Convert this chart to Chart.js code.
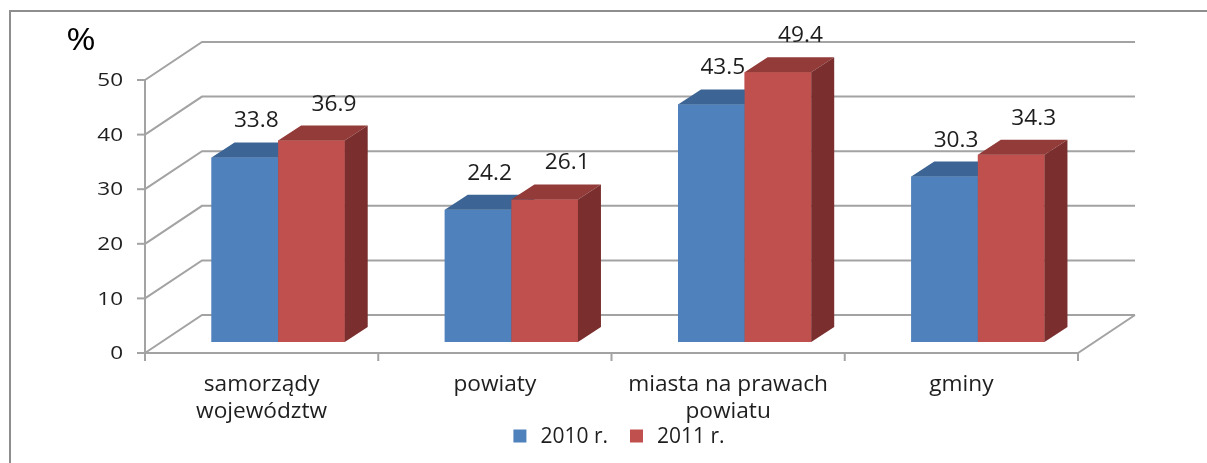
<!DOCTYPE html>
<html>
<head>
<meta charset="utf-8">
<script src="https://cdn.jsdelivr.net/npm/chart.js@4/dist/chart.umd.min.js"></script>
<style>
  body { margin: 0; background: #fff; }
  #wrap { width: 1207px; height: 463px; position: relative; }
</style>
</head>
<body>
<div id="wrap"><canvas id="barChart"></canvas></div>
<script>
const categories = [['samorządy', 'województw'], ['powiaty'], ['miasta na prawach', 'powiatu'], ['gminy']];
const seriesNames = ['2010 r.', '2011 r.'];
const values2010 = [33.8, 24.2, 43.5, 30.3];
const values2011 = [36.9, 26.1, 49.4, 34.3];
const yTicks = [0, 10, 20, 30, 40, 50];
const unitLabel = '%';

const colors = {
    front: ['#4f81bd', '#c0504d'],
    top: ['#3c6494', '#923b39'],
    side: ['#34557e', '#7a2f2e']
};
const GRID = '#a3a3a3';
const TEXT = '#1e1e1e';

// przesunięcia płaszczyzn względem płaszczyzny słupków
const FRONT = { dx: -16.5, dy: 11 };
const BACK = { dx: 40.5, dy: -27 };
const BAR_DEPTH = { dx: 23, dy: -15 };
const labelShift = [0, 11];

function line(ctx, pts) {
    ctx.beginPath();
    ctx.moveTo(pts[0][0], pts[0][1]);
    for (let i = 1; i < pts.length; i++) ctx.lineTo(pts[i][0], pts[i][1]);
    ctx.stroke();
}
function poly(ctx, pts, fill) {
    ctx.beginPath();
    ctx.moveTo(pts[0][0], pts[0][1]);
    for (let i = 1; i < pts.length; i++) ctx.lineTo(pts[i][0], pts[i][1]);
    ctx.closePath();
    ctx.fillStyle = fill;
    ctx.fill();
}
// tekst lekko rozciągnięty w poziomie, jak w oryginale
function text(ctx, s, x, y, sx) {
    ctx.save();
    ctx.translate(x, y);
    ctx.scale(sx, 1);
    ctx.fillText(s, 0, 0);
    ctx.restore();
}

const bars3d = {
    id: 'bars3d',
    beforeDatasetsDraw(chart) {
        const ctx = chart.ctx;
        const xS = chart.scales.x, yS = chart.scales.y;
        const x0 = xS.left, x1 = xS.right;
        const zero = yS.getPixelForValue(0);
        ctx.save();
        ctx.strokeStyle = GRID;
        ctx.lineWidth = 2;
        // ściany: linie siatki
        yTicks.forEach(v => {
            const yb = yS.getPixelForValue(v);
            line(ctx, [[x0 + FRONT.dx, yb + FRONT.dy], [x0 + BACK.dx, yb + BACK.dy], [x1 + BACK.dx, yb + BACK.dy]]);
        });
        // podłoga
        line(ctx, [[x0 + FRONT.dx, zero + FRONT.dy], [x1 + FRONT.dx, zero + FRONT.dy], [x1 + BACK.dx, zero + BACK.dy]]);
        // oś wartości
        const ax = x0 + FRONT.dx;
        line(ctx, [[ax, yS.getPixelForValue(yTicks[yTicks.length - 1]) + FRONT.dy], [ax, zero + FRONT.dy + 8]]);
        ctx.font = '18px "Open Sans"';
        ctx.fillStyle = TEXT;
        ctx.textAlign = 'right';
        ctx.textBaseline = 'middle';
        yTicks.forEach(v => {
            const y = yS.getPixelForValue(v) + FRONT.dy;
            line(ctx, [[ax - 8, y], [ax, y]]);
            text(ctx, String(v), ax - 22, y + 1, 1.25);
        });
        // oś kategorii
        const w = (x1 - x0) / categories.length;
        for (let i = 0; i <= categories.length; i++) {
            const x = x0 + FRONT.dx + i * w;
            line(ctx, [[x, zero + FRONT.dy], [x, zero + FRONT.dy + 8]]);
        }
        ctx.font = '21px "Open Sans"';
        ctx.textAlign = 'center';
        categories.forEach((lab, i) => {
            const cx = xS.getPixelForValue(i) + FRONT.dx;
            lab.forEach((t, k) => text(ctx, t, cx, zero + FRONT.dy + 32 + k * 27, 1.08));
        });
        ctx.restore();
    },
    afterDatasetsDraw(chart) {
        const ctx = chart.ctx;
        ctx.save();
        chart.data.datasets.forEach((ds, d) => {
            const meta = chart.getDatasetMeta(d);
            meta.data.forEach(el => {
                const l = el.x - el.width / 2, r = el.x + el.width / 2;
                const t = el.y, b = el.base;
                const DX = BAR_DEPTH.dx, DY = BAR_DEPTH.dy;
                poly(ctx, [[l, t], [r, t], [r, b], [l, b]], colors.front[d]);
                poly(ctx, [[l, t], [r, t], [r + DX, t + DY], [l + DX, t + DY]], colors.top[d]);
                poly(ctx, [[r, t], [r + DX, t + DY], [r + DX, b + DY], [r, b]], colors.side[d]);
            });
        });
        ctx.font = '21px "Open Sans"';
        ctx.fillStyle = TEXT;
        ctx.textAlign = 'center';
        ctx.textBaseline = 'middle';
        chart.data.datasets.forEach((ds, d) => {
            chart.getDatasetMeta(d).data.forEach((el, i) => {
                text(ctx, ds.data[i].toFixed(1), el.x + BAR_DEPTH.dx / 2 + labelShift[d], el.y + BAR_DEPTH.dy - 21, 1.08);
            });
        });
        ctx.restore();
    },
    afterDraw(chart) {
        const ctx = chart.ctx;
        ctx.save();
        // ramka
        ctx.strokeStyle = '#8e8e8e';
        ctx.lineWidth = 2;
        ctx.strokeRect(10, 11, 1220, 500);
        // jednostka
        ctx.fillStyle = '#000';
        ctx.font = '31px "Open Sans"';
        ctx.textAlign = 'center';
        ctx.textBaseline = 'middle';
        text(ctx, unitLabel, 81, 41, 1.15);
        // legenda
        ctx.font = '21px "Open Sans"';
        ctx.textAlign = 'left';
        const box = 13, gap = 14, sep = 22, ly = 436;
        const widths = seriesNames.map(s => ctx.measureText(s).width);
        const total = widths.reduce((a, b) => a + b, 0) + seriesNames.length * (box + gap) + sep * (seriesNames.length - 1);
        let x = 619 - total / 2;
        seriesNames.forEach((s, d) => {
            ctx.fillStyle = colors.front[d];
            ctx.fillRect(x, ly - box / 2, box, box);
            x += box + gap;
            ctx.fillStyle = TEXT;
            ctx.fillText(s, x, ly + 1);
            x += widths[d] + sep;
        });
        ctx.restore();
    }
};

new Chart(document.getElementById('barChart'), {
    type: 'bar',
    data: {
        labels: categories,
        datasets: [
            { label: seriesNames[0], data: values2010, backgroundColor: colors.front[0] },
            { label: seriesNames[1], data: values2011, backgroundColor: colors.front[1] }
        ]
    },
    options: {
        responsive: true,
        maintainAspectRatio: false,
        animation: false,
        layout: { padding: { left: 161.5, right: 112.5, top: 69, bottom: 121 } },
        datasets: { bar: { categoryPercentage: 0.571, barPercentage: 1.0 } },
        scales: {
            x: { display: false },
            y: { display: false, min: 0, max: 50 }
        },
        plugins: { legend: { display: false }, tooltip: { enabled: false } }
    },
    plugins: [bars3d]
});
</script>
</body>
</html>
